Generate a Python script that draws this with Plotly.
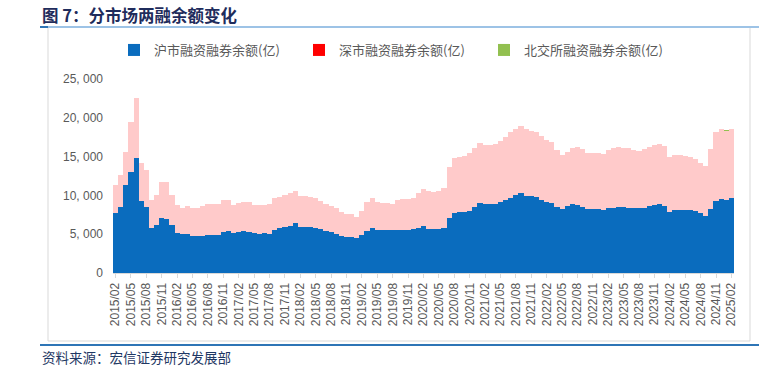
import plotly.graph_objects as go
import pandas as pd

# Categories: monthly, 2015/02 .. 2025/02
months = pd.date_range("2015-02-01", "2025-02-01", freq="MS").strftime("%Y/%m").tolist()
tick_labels = months[::3]

# 沪市融资融券余额(亿)
sh = [7780, 8550, 11340, 13060, 14870, 9280, 8550, 5840, 6190, 7130, 6960, 6190,
      5110, 4980, 5030, 4810, 4730, 4810, 4900, 4940, 4940, 5330, 5460, 5160,
      5330, 5410, 5330, 5110, 5070, 5110, 5070, 5590, 5840, 5930, 6020, 6400,
      5970, 5970, 5930, 5840, 5630, 5410, 5240, 5030, 4730, 4680, 4640, 4550,
      4900, 5460, 5840, 5540, 5540, 5500, 5500, 5540, 5540, 5590, 5630, 5760,
      6020, 5670, 5630, 5670, 5840, 7130, 7780, 7860, 7910, 8040, 8510, 9020,
      8850, 8850, 8890, 9200, 9410, 9710, 10050, 10270, 9970, 9930, 9840, 9410,
      9110, 8980, 8510, 8210, 8680, 8850, 8720, 8510, 8290, 8290, 8250, 8160,
      8340, 8420, 8550, 8510, 8420, 8380, 8340, 8420, 8590, 8770, 8850, 8640,
      7910, 8120, 8120, 8080, 8080, 7950, 7690, 7390, 8250, 9320, 9580, 9370,
      9630]

# 深市融资融券余额(亿)
sz = [3560, 4080, 4300, 6440, 7730, 4860, 4730, 3570, 3860, 4640, 4810, 3860,
      3660, 3440, 3650, 3610, 3690, 3870, 3950, 4000, 3950, 4080, 3950, 3610,
      3690, 3790, 3780, 3660, 3700, 3660, 3780, 4120, 4000, 4120, 4250, 4170,
      3960, 3910, 3910, 3790, 3650, 3530, 3440, 3310, 3090, 2970, 2920, 2710,
      3100, 3740, 3870, 3570, 3440, 3480, 3440, 3870, 4000, 3950, 4000, 4510,
      4810, 4900, 4850, 4900, 5160, 6580, 7000, 7050, 7220, 7390, 7560, 7700,
      7650, 7650, 7700, 7820, 8160, 8420, 8510, 8720, 8590, 8420, 8380, 8290,
      8040, 7860, 7350, 6960, 6960, 7220, 7520, 7480, 7180, 7180, 7170, 7130,
      7460, 7640, 7730, 7590, 7640, 7460, 7370, 7500, 7680, 7750, 7760, 7670,
      7060, 7150, 7060, 7020, 6890, 6720, 6550, 6420, 7790, 8860, 9030, 8940,
      8980]

# 北交所融资融券余额(亿) — only visible sliver in the picture
bse_months = ["2025/01"]
bse = [40]

y_ticks = [0, 5000, 10000, 15000, 20000, 25000]
y_tick_labels = ["0", "5, 000", "10, 000", "15, 000", "20, 000", "25, 000"]

W, H = 759, 368
L, R, T, B = 113, 25, 79, 95
PW, PH = W - L - R, H - T - B


def px(xp):
    return (xp - L) / PW


def py(yp):
    return (H - B - yp) / PH


fig = go.Figure()
fig.add_bar(x=months, y=sh, name="沪市融资融券余额(亿)",
            marker=dict(color="#0A6CBE", line=dict(width=0)))
fig.add_bar(x=months, y=sz, name="深市融资融券余额(亿)", showlegend=False,
            legendgroup="sz", marker=dict(color="#FFCACA", line=dict(width=0)))
fig.add_bar(x=[None], y=[None], name="深市融资融券余额(亿)", legendgroup="sz",
            marker=dict(color="#FF0000", line=dict(width=0)))
fig.add_bar(x=bse_months, y=bse, name="北交所融资融券余额(亿)",
            marker=dict(color="#92C050", line=dict(width=0)))

gray = "#595959"
fig.update_layout(
    width=W, height=H,
    margin=dict(l=L, r=R, t=T, b=B),
    paper_bgcolor="white", plot_bgcolor="white",
    barmode="stack", bargap=0,
    font=dict(family="Liberation Sans, Arial, Noto Sans CJK SC", size=12, color=gray),
    xaxis=dict(type="category", tickmode="array", tickvals=tick_labels, ticktext=tick_labels,
               tickangle=-90, tickfont=dict(size=12, color=gray),
               showline=True, linecolor="#D9D9D9", linewidth=1,
               ticks="outside", ticklen=4, tickcolor="#D9D9D9",
               range=[-0.5, len(months) - 0.5], showgrid=False),
    yaxis=dict(range=[0, 25000], tickmode="array", tickvals=y_ticks, ticktext=y_tick_labels,
               showgrid=False, showline=False, zeroline=False, ticks="",
               ticklabelstandoff=9,
               tickfont=dict(size=12, color=gray)),
    legend=dict(orientation="h", x=px(114), y=py(35), xanchor="left", yanchor="top",
                font=dict(family="Noto Sans CJK SC", size=13, color=gray),
                itemwidth=30, entrywidth=140, traceorder="normal",
                bgcolor="rgba(0,0,0,0)"),
    shapes=[
        dict(type="rect", xref="paper", yref="paper", x0=px(48), x1=px(750),
             y0=py(341), y1=py(27), line=dict(color="#D9D9D9", width=1), layer="below"),
        dict(type="line", xref="paper", yref="paper", x0=px(40), x1=px(759),
             y0=py(27), y1=py(27), line=dict(color="#9DC3E6", width=2)),
        dict(type="line", xref="paper", yref="paper", x0=px(40), x1=px(48),
             y0=py(27), y1=py(27), line=dict(color="#2E75B6", width=2)),
        dict(type="line", xref="paper", yref="paper", x0=px(40), x1=px(759),
             y0=py(345), y1=py(345), line=dict(color="#2E75B6", width=2)),
    ],
    annotations=[
        dict(xref="paper", yref="paper", x=px(40), y=py(15), xanchor="left", yanchor="middle",
             text="<b>图 7：分市场两融余额变化</b>", showarrow=False,
             font=dict(family="Noto Sans CJK SC", size=16.5, color="#1F2C5C")),
        dict(xref="paper", yref="paper", x=px(40), y=py(357), xanchor="left", yanchor="middle",
             text="资料来源：宏信证券研究发展部", showarrow=False,
             font=dict(family="Noto Sans CJK SC", size=13.5, color="#1F3864")),
    ],
)

fig.write_html("out.html", config={"displayModeBar": False},
               post_script="document.body.style.margin='0';")
